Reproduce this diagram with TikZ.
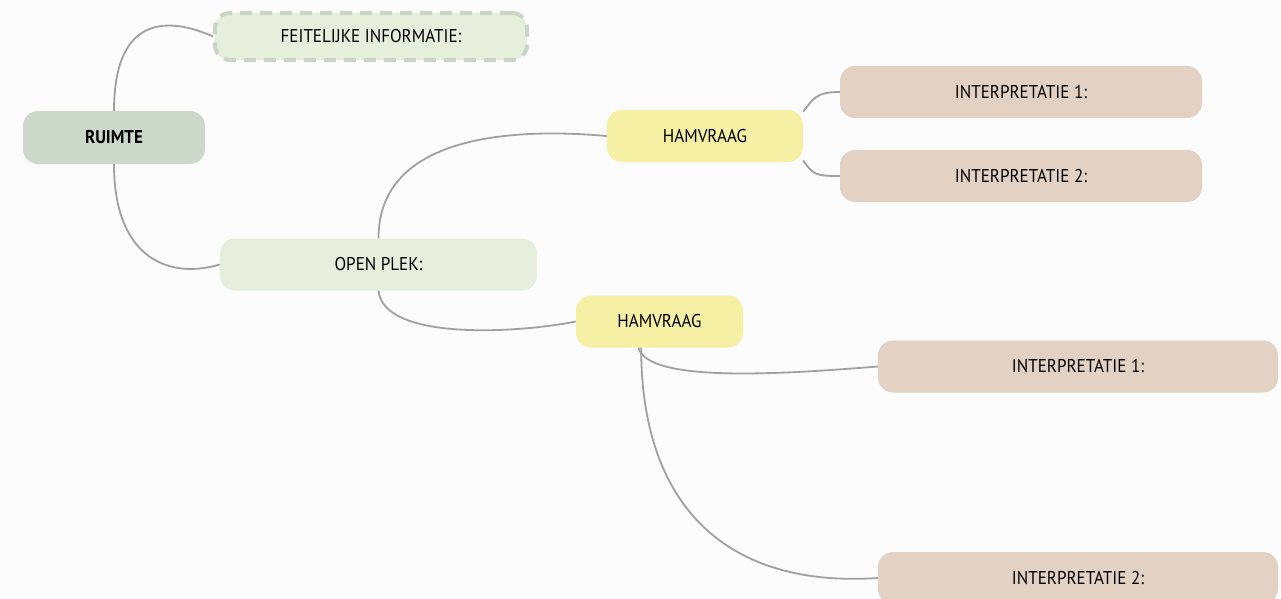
\documentclass[tikz,border=0pt]{standalone}
\usepackage{fontspec}
\setmainfont[FakeStretch=0.92]{PT Sans}
\definecolor{bgcol}{HTML}{FCFCFC}
\definecolor{factfill}{HTML}{E5EFDC}
\definecolor{factline}{HTML}{C9D6C6}
\definecolor{rootfill}{HTML}{CBD8CA}
\definecolor{askfill}{HTML}{F5F0A3}
\definecolor{readfill}{HTML}{E3D1C3}
\definecolor{linkcol}{HTML}{A0A0A0}
\begin{document}
\begin{tikzpicture}[x=1pt,y=-1pt,
    box/.style={rounded corners=15pt,inner sep=0pt,font=\fontsize{18.5}{20}\selectfont},
    root/.style={box,fill=rootfill,minimum width=182pt,minimum height=53pt,font=\fontsize{18.5}{20}\selectfont\bfseries},
    fact/.style={box,fill=factfill,minimum width=317pt,minimum height=52pt},
    ask/.style={box,fill=askfill,minimum height=52pt},
    reading/.style={box,fill=readfill,minimum height=52pt},
    link/.style={draw=linkcol,line width=1.8pt}]
  \fill[bgcol] (0,0) rectangle (1281,598);
  \useasboundingbox (0,0) rectangle (1281,598);

  \node[fact,draw=factline,line width=4pt,dash pattern=on 12pt off 8pt,
        minimum width=312pt,minimum height=47pt] (feit) at (371,36.5) {FEITELIJKE INFORMATIE:};
  \node[root] (ruimte) at (114,137.5) {RUIMTE};
  \node[fact] (plek) at (378.5,264.5) {OPEN PLEK:};
  \node[ask,minimum width=196pt] (vraagA) at (705,136) {HAMVRAAG};
  \node[ask,minimum width=167pt] (vraagB) at (659.5,321.5) {HAMVRAAG};
  \node[reading,minimum width=362pt] (leesA1) at (1021,92) {INTERPRETATIE 1:};
  \node[reading,minimum width=362pt] (leesA2) at (1021,176) {INTERPRETATIE 2:};
  \node[reading,minimum width=400pt] (leesB1) at (1078,366.5) {INTERPRETATIE 1:};
  \node[reading,minimum width=400pt] (leesB2) at (1078,578) {INTERPRETATIE 2:};

  \draw[link] (ruimte.north) .. controls +(0,-100) and +(-40,-18) .. (feit.west);
  \draw[link] (ruimte.south) .. controls +(0,95) and +(-50,15) .. (plek.west);
  \draw[link] (plek.north) .. controls +(0,-105) and +(-90,-8) .. (vraagA.west);
  \draw[link] (plek.south) .. controls +(5,50) and +(-60,12) .. (vraagB.west);
  \draw[link] (vraagA.14) .. controls +(10,-12) and +(-25,0) .. (leesA1.west);
  \draw[link] (vraagA.-14) .. controls +(10,14) and +(-25,0) .. (leesA2.west);
  \draw[link] (vraagB.231) .. controls +(10,35) and +(-100,8) .. (leesB1.west);
  \draw[link] (vraagB.235) .. controls +(0,160) and +(-150,10) .. (leesB2.west);
\end{tikzpicture}
\end{document}
